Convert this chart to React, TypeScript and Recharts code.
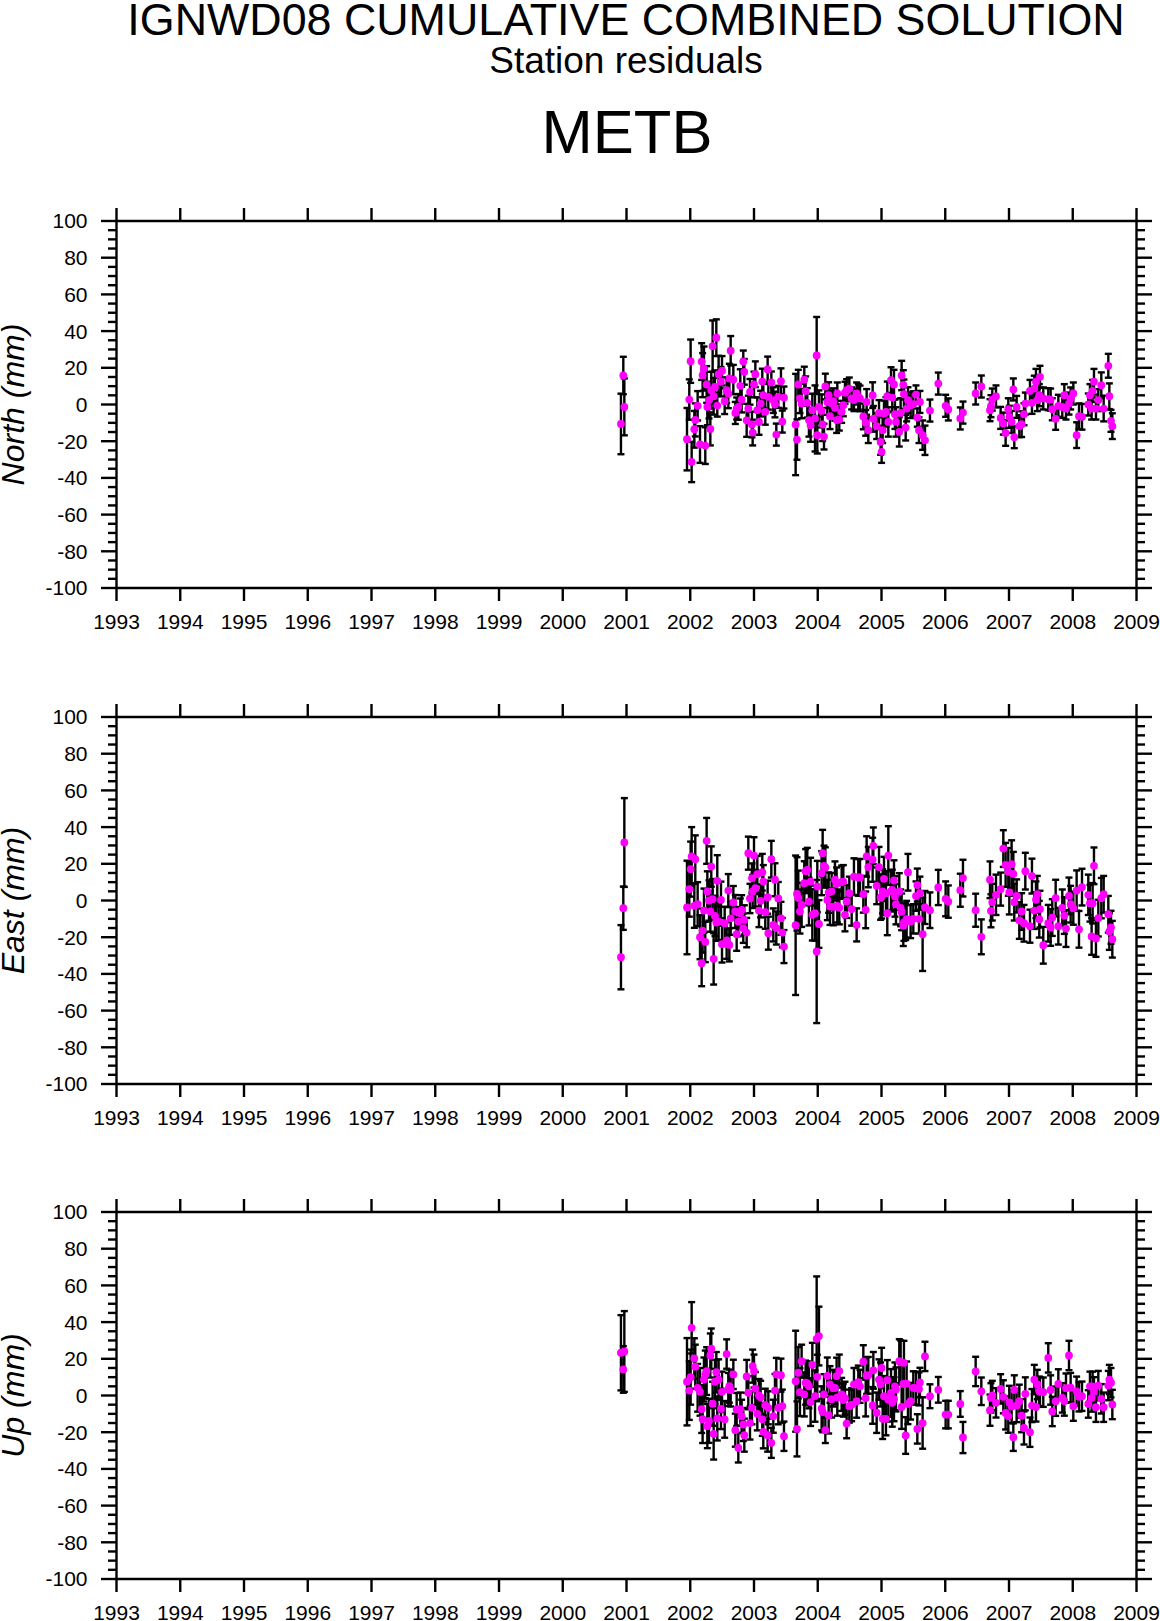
import { ErrorBar, Scatter, ScatterChart, XAxis, YAxis } from 'recharts';

// decimal years, same epochs in all three panels
const epochs = [
  2000.913, 2000.95, 2000.966,
  2001.949, 2001.985, 2002.006, 2002.022, 2002.064, 2002.079, 2002.116, 2002.153, 2002.179, 2002.194,
  2002.215, 2002.236, 2002.257, 2002.268, 2002.294, 2002.315, 2002.33, 2002.351, 2002.367, 2002.388,
  2002.409, 2002.424, 2002.445, 2002.482, 2002.498, 2002.54, 2002.571, 2002.597, 2002.613, 2002.634,
  2002.676, 2002.707, 2002.728, 2002.754, 2002.785, 2002.806, 2002.832, 2002.848, 2002.885, 2002.911,
  2002.937, 2002.968, 2002.979, 2003.0, 2003.021, 2003.052, 2003.078, 2003.104, 2003.13, 2003.146,
  2003.177, 2003.214, 2003.225, 2003.272, 2003.303, 2003.329, 2003.35, 2003.381, 2003.423, 2003.444, 2003.47,
  2003.653, 2003.674, 2003.695, 2003.721, 2003.747, 2003.789, 2003.81, 2003.836, 2003.862, 2003.888,
  2003.915, 2003.957, 2003.983, 2003.993, 2004.019, 2004.061, 2004.077, 2004.098, 2004.119, 2004.15,
  2004.171, 2004.192, 2004.218, 2004.244, 2004.27, 2004.296, 2004.307, 2004.338, 2004.375, 2004.401,
  2004.427, 2004.453, 2004.495, 2004.532, 2004.568, 2004.61, 2004.636, 2004.663, 2004.715, 2004.752,
  2004.767, 2004.793, 2004.861, 2004.872, 2004.924, 2004.961,
  2004.986, 2005.002, 2005.018, 2005.039, 2005.07, 2005.091, 2005.107, 2005.149, 2005.169, 2005.196,
  2005.211, 2005.227, 2005.279, 2005.3, 2005.316, 2005.342, 2005.352, 2005.379, 2005.394, 2005.415,
  2005.457, 2005.499, 2005.541, 2005.562, 2005.588, 2005.603, 2005.645, 2005.682,
  2005.76, 2005.891, 2006.006, 2006.048, 2006.236, 2006.278, 2006.477, 2006.566,
  2006.702, 2006.717, 2006.738, 2006.796, 2006.869, 2006.911, 2006.947, 2006.989, 2007.005, 2007.041,
  2007.068, 2007.083, 2007.12, 2007.162, 2007.198, 2007.235, 2007.256, 2007.329, 2007.36, 2007.397,
  2007.423, 2007.444, 2007.475, 2007.486, 2007.538, 2007.616, 2007.653, 2007.679, 2007.732, 2007.774,
  2007.836, 2007.868, 2007.894, 2007.941, 2007.967, 2008.009, 2008.061, 2008.098, 2008.145, 2008.244,
  2008.27, 2008.296, 2008.312, 2008.333, 2008.364, 2008.401, 2008.448, 2008.485, 2008.558, 2008.574,
  2008.6, 2008.621,
];

const north = [
  -10.6, 15.8, -1.3,
  -18.9, 2.7, 23.6, -31.3, -13.5, -8.4, -0.7, -21.8, 23.4, 16,
  19.6, -22.4, 10.9, -1.3, 2.4, -13.3, 7.8, 31.8, 4.5, 9.6,
  36.4, -0.6, 16.5, 12.4, 18.4, 1.8, 7.8, 6, 14.2, 29.3,
  13.6, -4.6, -2.2, -1.3, 10.2, 2.7, 23.4, 17.8, -8.6, -2.2,
  6.9, -10.9, -15.3, 10.9, 16.5, -3.1, -9.5, 0.5, 12.5, 5.1,
  -4, 19.1, 4.2, 12, 2.4, 0, -16.4, 4.2, 12.7, -9.3, 3.8,
  -10.9, -19.1, 10.9, 3.3, 0.5, 13.6, 7.3, 0.9, -8.5, -11.3,
  -3.1, -7.6, 26.7, -16.7, -1.3, -3.5, -10.9, -17.5, 9.8, 1.4,
  5.1, -6.4, 0.5, 1.8, -1.8, -8.5, 6, -8.2, -4, -0.4,
  6.4, 7.8, 8.7, 3.3, 2.4, 6, 4.2, 3.3, -6.5, -10,
  1.4, -14, 5.1, -7.8, -11.8, -4.6,
  -20.4, -25.8, -14, -4.9, -4, 4.5, -9.5, 13.3, 3.8, 10.9,
  -5.3, -9.5, -14.9, -4.6, 15.8, 10.7, 5.6, -12.6, -2.2, 2.4,
  -0.4, 0.2, 5.4, -7.1, -14, 1.4, -16.7, -19.5,
  -3.3, 11.4, -0.7, -2.7, -7.6, -4.4, 6, 9.8,
  -3.1, -0.9, 2.7, 4.4, -7.3, -10.4, -15.5, -2.6, -6.7, -9.5,
  8.2, -17.8, -1.3, -11.8, -10.7, -5.3, 0.5, 7.4, 0.9, 8.7,
  12.4, 2.4, 5.1, 15.1, 3.3, 2.9, 2.7, -2.6, -7.8, -0.7,
  -1.3, 5.1, -2.2, 0.5, 3.3, 6, -16.7, -6.4, -6.7, 0,
  5.1, -2.2, 7.4, 12.4, -2.2, 2.4, 10.5, -2.2, 21.1, 4.5,
  -8.9, -11.8,
];
const northErr = [
  16.5, 10.2, 15.5,
  17, 11, 11.8, 11, 10, 9, 8, 10, 10, 12,
  12, 10, 10, 10, 10, 9, 10, 14, 10, 9,
  10, 6, 10, 8, 8, 7, 7, 8, 8, 8,
  8, 6, 6, 7, 9, 7, 6, 7, 9, 7,
  7, 7, 7, 7, 7, 7, 7, 7, 7, 7,
  7, 7, 7, 6, 7, 7, 6, 6, 7, 6, 6,
  27.6, 11, 8, 8, 8, 7, 8, 8, 9, 9,
  9, 18, 21, 10, 9, 9, 9, 7, 7, 7,
  7, 7, 7, 7, 7, 7, 6, 6, 6, 6,
  6, 6, 6, 6, 6, 6, 7, 7, 7, 7,
  7, 7, 7, 7, 7, 7,
  7, 6, 7, 7, 8, 8, 8, 7, 8, 8,
  8, 8, 8, 8, 8, 8, 8, 7, 7, 7,
  7, 7, 5, 5, 7, 6, 8, 8,
  6, 6, 6, 6, 6, 6, 6, 6,
  6, 6, 6, 6, 6, 6, 7, 6, 6, 6,
  6, 6, 6, 6, 7, 6, 6, 6, 6, 7,
  7, 6, 6, 6, 6, 6, 6, 6, 6, 6,
  6, 6, 6, 6, 6, 6, 7, 7, 7, 6,
  6, 6, 6, 7, 6, 6, 7, 7, 6.5, 7,
  6, 7,
];

const east = [
  -30.9, -4.2, 31.6,
  -3.8, 6.2, 17.1, 24, -2.9, 22.5, -2, -20, -34.2, -16.4,
  -5.5, -22.6, 32.5, 4.9, 0, -6, 18.5, 0.7, -31.8, -8.4,
  -12, 10.7, -11.5, 0.3, -23.8, -12.4, -21.8, 5.4, -24.2, -9.7,
  -1.1, -6, -18.4, -11.5, -6.9, -5.1, -15.1, -10.6, -17.5, 25.8,
  1.1, 12.2, 4.9, 24.5, 6.7, 14.3, -5.5, -0.2, 15.4, 10.3,
  -6.4, 1.8, -17.8, 22.5, -13.3, 11.3, -15, 1.1, -9.7, -17.5, -25.1,
  -13.5, 3.6, 1.3, -6, -2.4, 9.4, 16, 16.7, -0.6, 10.3,
  -7.8, -6.9, -27.8, 7.6, -12.8, 14.9, 25.8, 18.9, 18, 0.3,
  4.3, -3.3, 5, -3.5, 11.3, 9, -3, -4, 10, 10.3,
  -7.8, -0.5, 4, -4.7, 13, -13.3, 12.6, 12.6, 3.4, -5.1,
  24, 18.2, 22.2, 29.8, 8, 18.2,
  1.5, 2.2, 5, 11.8, 4, -6.9, 24.5, 5, 5.8, 10.9,
  2.2, -2, 4.9, -4, -6.2, -13.8, -12, -11.5, -10.2, 15.4,
  -11.5, -10, 2.4, 8.4, -10, 4, -18.4, -3.8,
  -5.3, 7.1, 0.9, -0.6, 5.6, 12.2, -5.3, -19.8,
  11.3, -5.6, -0.9, 3.1, 6.2, 28.3, 19.4, 15.6, 4.4, 19.8,
  14.5, -0.9, 2.5, -10.9, -6, -12.4, 16, -14, 13.3, -5.5,
  0.4, 3.4, -10.2, -4.7, -24.4, -12.4, -14.7, -9.3, 1.3, -14,
  -4, -8.2, -15.3, 2.5, -2, -4.2, 5.4, -15.7, 7.3, 3.1,
  -1.5, -19.6, -1.5, 18.9, -20.7, -9.6, 1.3, 3.4, -7.5, -16.9,
  -14.6, -21.1,
];
const eastErr = [
  17.5, 11.8, 24.2,
  25.5, 15, 15, 16, 12, 13, 12, 12, 12.5, 12,
  12, 11, 12.5, 11, 11, 11, 11, 11, 14, 11,
  10, 14, 10, 10, 10, 9, 10, 9, 9, 9,
  9, 9, 9, 8, 8, 8, 8, 8, 8, 9,
  8, 8, 9, 10, 10, 10, 9, 9, 10, 9,
  9, 9, 9, 10, 9, 9, 9, 9, 9, 8, 9,
  38, 20, 15, 12, 12, 12, 12, 12, 13, 13,
  14, 15, 39, 14, 13, 12, 12.7, 11, 11, 11,
  11, 10, 10, 10, 10, 9, 9, 9, 9, 9,
  9, 9, 9, 9, 10, 9, 10, 10, 10, 10,
  11, 11, 12, 10, 10, 11,
  12, 12, 12, 12, 12, 12, 16, 11, 11, 11,
  11, 11, 10, 10, 10, 11, 10, 10, 10, 10,
  9, 8, 8, 9, 8, 9, 20, 9,
  9.7, 9.6, 9.5, 8.8, 9, 10, 9, 9.5,
  10, 9, 10, 11, 9, 10, 12, 13, 12, 13,
  12, 10, 9, 10, 10, 10, 10, 9, 9.5, 10,
  10, 10, 10, 10, 10, 10, 10, 10, 10, 10,
  10, 10, 10, 10, 10, 9, 11, 10, 10, 11,
  10, 10, 11, 10, 10, 10, 11, 10, 10, 10,
  9, 10,
];

const up = [
  23.3, 14.2, 24,
  7.5, 2.7, 10, 36.9, 20.2, 15.7, 4.2, 2, -7.4, -12.9,
  8.7, 11.5, 13.3, -16.7, -13.8, 21.8, 25.5, -4.5, -20.9, 7.5,
  12.7, -12.5, 8.7, -7.3, 2, -13, 22.6, 3.3, 5.1, 3,
  11.5, -18.9, -7.6, -28.5, -7.4, -11.3, -15.8, -21.6, 10.4, 1.5,
  -15, -6.7, 16, 13.3, 3.8, -10, 0, -1, -13, -19.8,
  -5.3, -21.6, -6.7, -25.8, -11.3, 2.7, 11.5, -6.7, 11.1, -5.8, -22.2,
  7.8, -18.2, 12.4, 1.8, 18.7, 0.6, 7, 6.6, 5, -3.6,
  16.7, -0.3, 30.9, 10.2, 32.4, -7, -9, 0.6, -18.9, 10.7,
  -10.7, 6, -2, 4, 4.2, 10.6, -1, 13.3, 0.6, -2.5,
  -1.5, -15.3, -5.8, -5, 6, -3.1, 7.3, 5, 18.4, -1.4,
  10.9, 11, -5.4, 13.7, -9.4, 8.7,
  6, 15, -12.7, -0.4, -12.7, 8.3, -2.2, 1.4, -4, -2,
  5, 3.3, 18.7, 18, -6.2, 6.3, 17.8, -21.8, 6.5, -4.6,
  -3.1, 4.2, 4, -18.2, 3.6, 7.1, -15, 21.3,
  -0.4, 3.1, -10.4, -10.4, -4.6, -22.9, 13.1, 2.3,
  -8, -1.3, 0, -4, 3.6, -0.7, -9.5, -11.3, -3.7, -6,
  -22.7, 3, -5.5, -3.1, -11, -17.7, 0.9, -20, -5.5, 8.7,
  -6.2, 6, 2.3, 2, 1.8, 20.5, 3, -8.7, -3.1, 6.3,
  -1.3, -3, 4, 21.8, 4.3, -5.8, 2.3, -0.7, -0.4, -4.6,
  5, -1.3, 5, 2, -6.4, 5.4, -1.8, -6.4, 5.4, 8.7,
  7, -4.9,
];
const upErr = [
  20.5, 12.7, 22,
  23.8, 16, 15, 14, 11, 12, 13, 13, 13, 13,
  12, 13, 13, 12, 12, 12, 11, 12, 14, 12,
  11, 12, 11, 11, 11, 10, 8, 9, 9, 9,
  8, 9, 9, 8, 9, 9, 9, 9, 9, 9,
  9, 9, 9, 9, 9, 9, 9, 9, 9, 9,
  9, 9, 9, 8.2, 9, 9, 9, 9, 9, 9, 8,
  27.5, 15, 14, 13, 9, 12, 12, 12, 12, 13,
  12, 14, 34, 12, 16, 12, 11, 11, 7, 10,
  10, 10, 10, 10, 9, 10, 10, 9, 9, 9,
  9, 8, 9, 9, 9, 9, 9, 9, 9, 10,
  10, 10, 10, 10, 11, 11,
  12, 11, 11, 11, 9, 11, 12, 13, 13, 12,
  13, 12, 12, 12, 12, 12, 12, 10, 12, 11,
  10, 9, 9, 8, 9, 8, 14, 8,
  6.5, 7, 7.5, 7.5, 7, 8.5, 8, 7.5,
  8.5, 8, 8, 8, 8, 9, 9, 9, 9, 9,
  7.5, 8, 9, 9, 9, 9, 9, 8, 9, 8,
  8, 8, 8, 8, 8, 8, 8, 8, 8, 8,
  8, 8, 8, 8, 8, 8, 8, 8, 8, 7.5,
  8, 7.5, 8, 8, 8, 8, 8, 8, 8, 8,
  8, 8,
];

const yearTicks = [1993, 1994, 1995, 1996, 1997, 1998, 1999, 2000, 2001, 2002, 2003, 2004, 2005, 2006, 2007, 2008, 2009];
const mmTicks = [
  -100, -95, -90, -85, -80, -75, -70, -65, -60, -55, -50, -45, -40, -35, -30, -25, -20, -15, -10, -5, 0,
  5, 10, 15, 20, 25, 30, 35, 40, 45, 50, 55, 60, 65, 70, 75, 80, 85, 90, 95, 100,
];

const FONT = '"Liberation Sans", Arial, sans-serif';
const STROKE = 2.4;

function Mark(props: { x1: number; x2: number; y1: number; y2: number }) {
  return <line {...props} stroke="#000" strokeWidth={STROKE} />;
}

function LeftTick({ x, y, payload }: any) {
  const major = payload.value % 20 === 0;
  return (
    <g>
      <Mark x1={x} x2={x - (major ? 15.5 : 8.5)} y1={y} y2={y} />
      {major && (
        <text x={x - 29} y={y + 7.4} textAnchor="end" fontFamily={FONT} fontSize={21} fill="#000">
          {payload.value}
        </text>
      )}
    </g>
  );
}

function RightTick({ x, y, payload }: any) {
  const major = payload.value % 20 === 0;
  return <Mark x1={x} x2={x + (major ? 15.5 : 8.5)} y1={y} y2={y} />;
}

function BottomTick({ x, y, payload }: any) {
  return (
    <g>
      <Mark x1={x} x2={x} y1={y} y2={y + 13} />
      <text x={x} y={y + 40.5} textAnchor="middle" fontFamily={FONT} fontSize={21} fill="#000">
        {payload.value}
      </text>
    </g>
  );
}

function TopTick({ x, y }: any) {
  return <Mark x1={x} x2={x} y1={y} y2={y - 13} />;
}

function Dot({ cx, cy }: any) {
  return <circle cx={cx} cy={cy} r={3.9} fill="#ff00ff" />;
}

function Panel({ top, title, values, errors }: { top: number; title: string; values: number[]; errors: number[] }) {
  const rows = epochs.map((year, i) => ({ year, value: values[i], error: errors[i] }));
  const axisLine = { stroke: '#000', strokeWidth: STROKE };
  return (
    <div style={{ position: 'absolute', left: 0, top }}>
      <ScatterChart width={1160} height={450} margin={{ top: 0, right: 0, bottom: 0, left: 0 }}>
        <XAxis
          xAxisId="top"
          orientation="top"
          type="number"
          dataKey="year"
          domain={[1993, 2009]}
          ticks={yearTicks}
          interval={0}
          height={30}
          tickSize={0}
          tickMargin={0}
          tickLine={false}
          axisLine={axisLine}
          tick={TopTick}
        />
        <XAxis
          xAxisId="bottom"
          type="number"
          dataKey="year"
          domain={[1993, 2009]}
          ticks={yearTicks}
          interval={0}
          height={53}
          tickSize={0}
          tickMargin={0}
          tickLine={false}
          axisLine={axisLine}
          tick={BottomTick}
        />
        <YAxis
          yAxisId="left"
          type="number"
          dataKey="value"
          domain={[-100, 100]}
          ticks={mmTicks}
          interval={0}
          width={116.5}
          tickSize={0}
          tickMargin={0}
          tickLine={false}
          axisLine={axisLine}
          tick={LeftTick}
          label={{
            value: title,
            angle: -90,
            position: 'insideLeft',
            offset: 13,
            style: { textAnchor: 'middle', fontFamily: FONT, fontStyle: 'italic', fontSize: 32, fill: '#000' },
          }}
        />
        <YAxis
          yAxisId="right"
          orientation="right"
          type="number"
          dataKey="value"
          domain={[-100, 100]}
          ticks={mmTicks}
          interval={0}
          width={23.5}
          tickSize={0}
          tickMargin={0}
          tickLine={false}
          axisLine={axisLine}
          tick={RightTick}
        />
        {/* empty layer so the top and right axes have a series of their own */}
        <Scatter data={rows} xAxisId="top" yAxisId="right" shape={() => <g />} isAnimationActive={false} />
        <Scatter data={rows} xAxisId="bottom" yAxisId="left" shape={() => <g />} isAnimationActive={false}>
          <ErrorBar dataKey="error" direction="y" width={3.5} stroke="#000" strokeWidth={STROKE} isAnimationActive={false} />
        </Scatter>
        <Scatter data={rows} xAxisId="bottom" yAxisId="left" shape={Dot} isAnimationActive={false} />
      </ScatterChart>
    </div>
  );
}

export default function App() {
  return (
    <div style={{ position: 'absolute', left: 0, top: 0, width: 1160, height: 1621, background: '#fff', overflow: 'hidden' }}>
      <svg width={1160} height={190} style={{ position: 'absolute', left: 0, top: 0 }} fontFamily={FONT} textAnchor="middle">
        <text x={626} y={35} fontSize={44.8}>IGNWD08 CUMULATIVE COMBINED SOLUTION</text>
        <text x={626} y={73} fontSize={37}>Station residuals</text>
        <text x={627} y={153} fontSize={61.5}>METB</text>
      </svg>
      <Panel top={191.3} title="North (mm)" values={north} errors={northErr} />
      <Panel top={686.6} title="East (mm)" values={east} errors={eastErr} />
      <Panel top={1182.3} title="Up (mm)" values={up} errors={upErr} />
    </div>
  );
}
